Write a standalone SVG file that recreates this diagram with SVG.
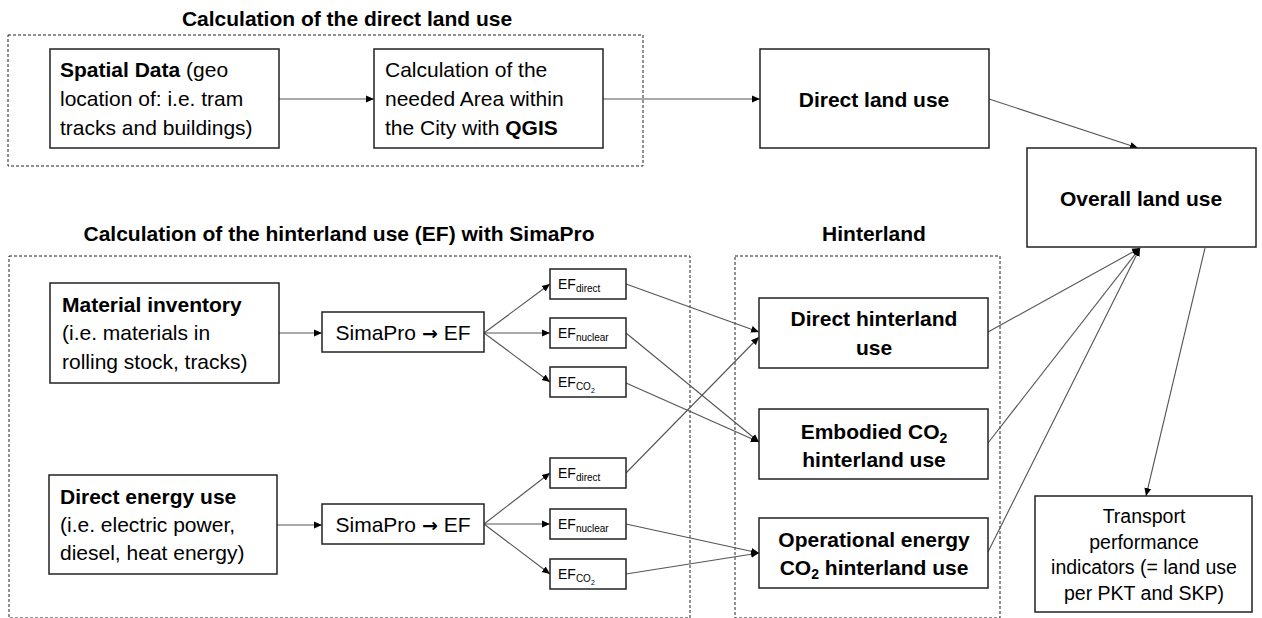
<svg xmlns="http://www.w3.org/2000/svg" width="1262" height="618" viewBox="0 0 1262 618">
<defs>
<marker id="ah" markerUnits="userSpaceOnUse" markerWidth="9" markerHeight="8" refX="8" refY="4" orient="auto">
<path d="M0,0.5 L8,4 L0,7.5 z" fill="#000"/>
</marker>
<style>
text{font-family:"Liberation Sans",Arial,sans-serif;fill:#000}
.t{font-size:21px;font-weight:bold;text-anchor:middle}
.b{font-size:21px}
.bc{font-size:21px;text-anchor:middle}
.bb{font-size:21px;font-weight:bold;text-anchor:middle}
.tp{font-size:19.5px;text-anchor:middle}
.ef{font-size:14px}
.arr{font-family:"DejaVu Sans",sans-serif;font-weight:bold;font-size:19px}
.box{fill:#fff;stroke:#222;stroke-width:1.5}
.dash{fill:none;stroke:#222;stroke-width:1;stroke-dasharray:3,2}
.c{stroke:#555;stroke-width:1.1;fill:none;marker-end:url(#ah)}
</style>
</defs>
<rect width="1262" height="618" fill="#fff"/>

<g id="group-direct">
<text class="t" x="347" y="26">Calculation of the direct land use</text>
<rect class="dash" x="8" y="35" width="635" height="131"/>
</g>
<g id="group-hinterland-calc">
<text class="t" x="339" y="241">Calculation of the hinterland use (EF) with SimaPro</text>
<rect class="dash" x="9" y="256" width="681" height="362"/>
</g>
<g id="group-hinterland">
<text class="t" x="874" y="241">Hinterland</text>
<rect class="dash" x="735" y="256" width="265" height="362"/>
</g>

<g id="connectors">
<line class="c" x1="279" y1="99" x2="374" y2="99"/>
<line class="c" x1="603" y1="99" x2="760" y2="99"/>
<line class="c" x1="989" y1="99" x2="1138" y2="148"/>
<line class="c" x1="279" y1="333" x2="322" y2="333"/>
<line class="c" x1="484" y1="333" x2="550" y2="284"/>
<line class="c" x1="484" y1="333" x2="550" y2="333"/>
<line class="c" x1="484" y1="333" x2="550" y2="382"/>
<line class="c" x1="277" y1="525" x2="322" y2="525"/>
<line class="c" x1="484" y1="524" x2="550" y2="473"/>
<line class="c" x1="484" y1="524" x2="550" y2="524"/>
<line class="c" x1="484" y1="524" x2="550" y2="574"/>
<line class="c" x1="626" y1="284" x2="759" y2="332"/>
<line class="c" x1="626" y1="333" x2="759" y2="442"/>
<line class="c" x1="626" y1="383" x2="759" y2="442"/>
<line class="c" x1="626" y1="473" x2="759" y2="337"/>
<line class="c" x1="626" y1="524" x2="759" y2="553"/>
<line class="c" x1="626" y1="574" x2="759" y2="553"/>
<line class="c" x1="988" y1="332" x2="1140" y2="248"/>
<line class="c" x1="988" y1="443" x2="1140" y2="248"/>
<line class="c" x1="988" y1="552" x2="1140" y2="248"/>
<line class="c" x1="1205" y1="248" x2="1146" y2="496"/>
</g>

<g id="spatial-data">
<rect class="box" x="50" y="49" width="229" height="99"/>
<text class="b" x="60" y="77"><tspan font-weight="bold">Spatial Data</tspan> (geo</text>
<text class="b" x="60" y="106">location of: i.e. tram</text>
<text class="b" x="60" y="135">tracks and buildings)</text>
</g>
<g id="calc-area">
<rect class="box" x="374" y="49" width="229" height="99"/>
<text class="b" x="385" y="77">Calculation of the</text>
<text class="b" x="385" y="106">needed Area within</text>
<text class="b" x="385" y="135">the City with <tspan font-weight="bold">QGIS</tspan></text>
</g>
<g id="direct-land-use">
<rect class="box" x="760" y="49" width="229" height="99"/>
<text class="bb" x="874" y="107">Direct land use</text>
</g>
<g id="overall-land-use">
<rect class="box" x="1027" y="148" width="229" height="99"/>
<text class="bb" x="1141" y="206">Overall land use</text>
</g>

<g id="material-inventory">
<rect class="box" x="50" y="283" width="229" height="100"/>
<text class="b" x="62" y="312" font-weight="bold">Material inventory</text>
<text class="b" x="62" y="340">(i.e. materials in</text>
<text class="b" x="62" y="369">rolling stock, tracks)</text>
</g>
<g id="simapro-1">
<rect class="box" x="322" y="312" width="162" height="40"/>
<text class="bc" x="403" y="340">SimaPro <tspan class="arr">→</tspan> EF</text>
</g>
<g id="ef-direct-1">
<rect class="box" x="550" y="269" width="76" height="30"/>
<text class="ef" x="558" y="289">EF<tspan font-size="10" dy="3">direct</tspan></text>
</g>
<g id="ef-nuclear-1">
<rect class="box" x="550" y="318" width="76" height="30"/>
<text class="ef" x="558" y="338">EF<tspan font-size="10" dy="3">nuclear</tspan></text>
</g>
<g id="ef-co2-1">
<rect class="box" x="550" y="367" width="76" height="30"/>
<text class="ef" x="558" y="387">EF<tspan font-size="10" dy="3">CO</tspan><tspan font-size="7" dy="3">2</tspan></text>
</g>

<g id="direct-energy">
<rect class="box" x="49" y="475" width="228" height="99"/>
<text class="b" x="60" y="504" font-weight="bold">Direct energy use</text>
<text class="b" x="60" y="532">(i.e. electric power,</text>
<text class="b" x="60" y="560">diesel, heat energy)</text>
</g>
<g id="simapro-2">
<rect class="box" x="322" y="504" width="162" height="40"/>
<text class="bc" x="403" y="532">SimaPro <tspan class="arr">→</tspan> EF</text>
</g>
<g id="ef-direct-2">
<rect class="box" x="550" y="458" width="76" height="30"/>
<text class="ef" x="558" y="478">EF<tspan font-size="10" dy="3">direct</tspan></text>
</g>
<g id="ef-nuclear-2">
<rect class="box" x="550" y="509" width="76" height="30"/>
<text class="ef" x="558" y="529">EF<tspan font-size="10" dy="3">nuclear</tspan></text>
</g>
<g id="ef-co2-2">
<rect class="box" x="550" y="559" width="76" height="30"/>
<text class="ef" x="558" y="579">EF<tspan font-size="10" dy="3">CO</tspan><tspan font-size="7" dy="3">2</tspan></text>
</g>

<g id="direct-hinterland">
<rect class="box" x="759" y="298" width="229" height="70"/>
<text class="bb" x="874" y="326">Direct hinterland</text>
<text class="bb" x="874" y="355">use</text>
</g>
<g id="embodied-co2">
<rect class="box" x="759" y="409" width="229" height="70"/>
<text class="bb" x="874" y="439">Embodied CO<tspan font-size="14" dy="4">2</tspan></text>
<text class="bb" x="874" y="467">hinterland use</text>
</g>
<g id="operational-co2">
<rect class="box" x="759" y="518" width="229" height="70"/>
<text class="bb" x="874" y="547">Operational energy</text>
<text class="bb" x="874" y="575">CO<tspan font-size="14" dy="4">2</tspan><tspan dy="-4"> hinterland use</tspan></text>
</g>
<g id="transport-indicators">
<rect class="box" x="1035" y="496" width="217" height="116"/>
<text class="tp" x="1144" y="523">Transport</text>
<text class="tp" x="1144" y="549">performance</text>
<text class="tp" x="1144" y="574">indicators (= land use</text>
<text class="tp" x="1144" y="600">per PKT and SKP)</text>
</g>
</svg>
